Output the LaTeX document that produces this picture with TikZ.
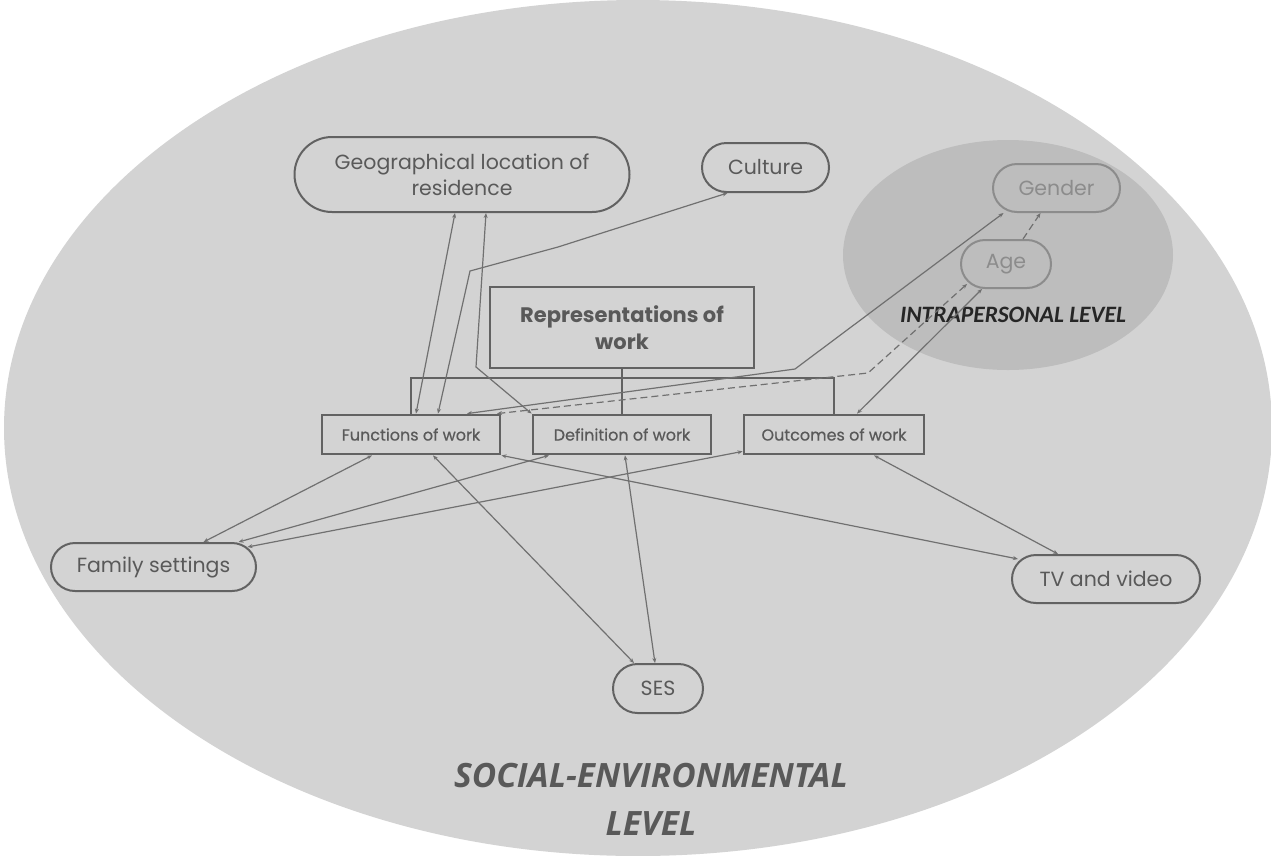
\documentclass[tikz,border=0pt]{standalone}
\usepackage{fontspec}
\setmainfont{Poppins}
\newfontfamily\opensans{Open Sans}
\newfontfamily\carlito{Carlito}
\newfontfamily\boxfont{Poppins}[FakeBold=0.6]
\usetikzlibrary{arrows.meta,shapes.misc}

\definecolor{sociallevel}{HTML}{D3D3D3}
\definecolor{intralevel}{HTML}{BDBDBD}
\definecolor{edgegray}{HTML}{626262}
\definecolor{linkgray}{HTML}{707070}
\definecolor{labelgray}{HTML}{595959}
\definecolor{palegray}{HTML}{8C8C8C}

\begin{document}
\begin{tikzpicture}[x=1pt, y=-1pt, >={Stealth[length=5pt,width=4pt]},
    pill/.style={rounded rectangle, draw=edgegray, line width=2pt, text=labelgray,
      inner sep=0pt, align=center, font=\fontsize{20.5}{26}\selectfont},
    workbox/.style={rectangle, draw=edgegray, line width=2.8pt, text=labelgray,
      inner sep=0pt, minimum height=39pt, font=\boxfont\fontsize{16}{19}\selectfont},
    link/.style={<->, draw=linkgray, line width=1.2pt},
    longdash/.style={dash pattern=on 7pt off 4pt},
    levelname/.style={font=\bfseries\itshape, align=center}]
  \useasboundingbox (0,0) rectangle (1271,855);
  \fill[white] (0,0) rectangle (1271,855);
  % the two levels
  \fill[sociallevel] (638,428) ellipse [x radius=634pt, y radius=428pt];
  \fill[intralevel] (1008,255) ellipse [x radius=165pt, y radius=115pt];

  \node[levelname, text=labelgray, font=\opensans\bfseries\itshape\fontsize{33.5}{48}\selectfont]
    (social) at (651,799) {SOCIAL-ENVIRONMENTAL\\LEVEL};
  \node[levelname, text=black!85, font=\carlito\bfseries\itshape\fontsize{23.5}{26}\selectfont]
    (intra) at (1013,315) {INTRAPERSONAL LEVEL};

  % factors
  \node[pill, minimum width=335pt, minimum height=75pt] (geo) at (462,174.5)
    {Geographical location of\\residence};
  \node[pill, minimum width=127pt, minimum height=49pt] (culture) at (765.5,167.5) {Culture};
  \node[pill, draw=palegray, text=palegray, minimum width=127pt, minimum height=48pt]
    (gender) at (1056.5,188) {Gender};
  \node[pill, draw=palegray, text=palegray, minimum width=90pt, minimum height=48pt]
    (age) at (1006,264) {Age};
  \node[pill, minimum width=205pt, minimum height=48pt] (family) at (153.5,567) {Family settings};
  \node[pill, minimum width=188pt, minimum height=48pt] (tv) at (1106,579) {TV and video};
  \node[pill, minimum width=90pt, minimum height=49pt] (ses) at (658,688.5) {SES};

  % representations of work
  \node[workbox, align=center, minimum width=264pt, minimum height=81pt,
    font=\bfseries\fontsize{21}{27}\selectfont] (repr) at (622,327.5)
    {Representations of\\work};
  \node[workbox, minimum width=178pt] (func) at (411,434.5) {Functions of work};
  \node[workbox, minimum width=178pt] (defn) at (622,434.5) {Definition of work};
  \node[workbox, minimum width=180pt] (outc) at (834,434.5) {Outcomes of work};

  \coordinate (bar) at (622,378);
  \draw[draw=edgegray, line width=2.8pt] (func.north) |- (bar) -| (outc.north);
  \draw[draw=edgegray, line width=2.8pt] (repr.south) -- (defn.north);

  % links into the three dimensions
  \draw[link] ([xshift=-7pt]geo.south) -- ([xshift=5pt]func.north);
  \draw[link] ([xshift=24pt]geo.south) -- (476,367) -- (defn.north west);
  \draw[link] ([xshift=-38pt]culture.south) -- (558,247) -- (470,271) -- ([xshift=27pt]func.north);
  \draw[link] ([xshift=-53pt]gender.south) -- (795,369) -- ([xshift=56pt]func.north);
  \draw[link, longdash] ([xshift=-39pt,yshift=5pt]age.south) -- (868,373) -- ([xshift=86pt]func.north);
  \draw[->, draw=linkgray, line width=1.2pt, longdash] ([xshift=17pt]age.north) -- ([xshift=-16pt]gender.south);
  \draw[link] ([xshift=-24pt]age.south) -- ([xshift=23pt]outc.north);
  \draw[link] ([xshift=50pt]family.north) -- ([xshift=-39pt]func.south);
  \draw[link] ([xshift=85pt]family.north) -- ([xshift=-73pt]defn.south);
  \draw[link] ([xshift=94pt,yshift=-5pt]family.north) -- ([yshift=4pt]outc.south west);
  \draw[link] ([xshift=22pt]func.south) -- ([xshift=-24pt]ses.north);
  \draw[link] ([xshift=3pt]defn.south) -- ([xshift=-3pt]ses.north);
  \draw[link] (func.south east) -- ([xshift=-88pt,yshift=-5pt]tv.north);
  \draw[link] ([xshift=40pt]outc.south) -- ([xshift=-48pt]tv.north);
\end{tikzpicture}
\end{document}
